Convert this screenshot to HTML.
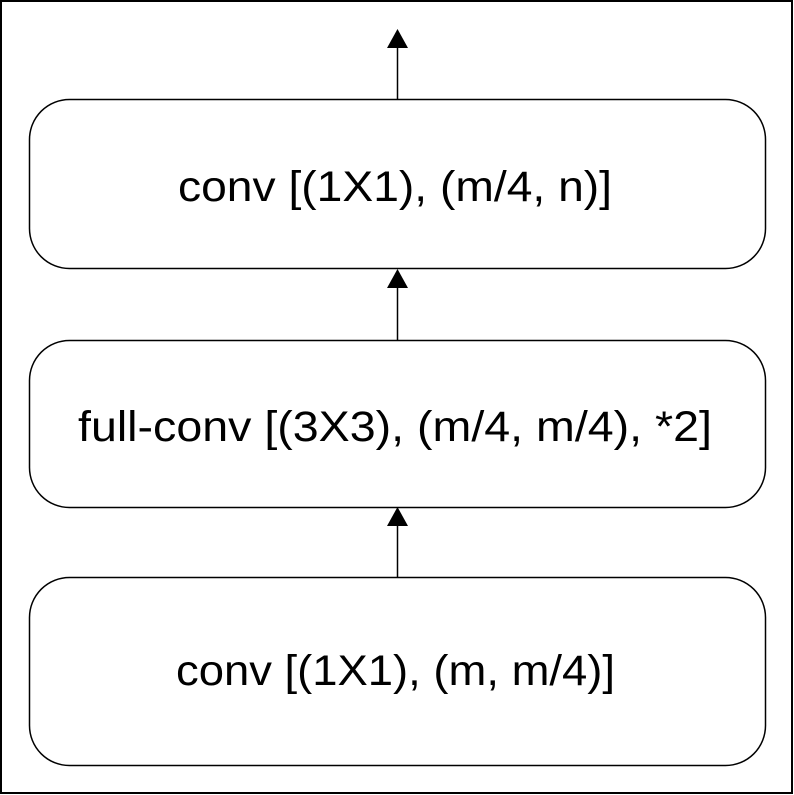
<!DOCTYPE html>
<html><head><meta charset="utf-8"><style>
html,body{margin:0;padding:0;background:#fff;}
svg{display:block;}
text{font-family:"Liberation Sans",sans-serif;font-size:43px;fill:#000;}
</style></head><body>
<svg width="794" height="795" viewBox="0 0 794 795" xmlns="http://www.w3.org/2000/svg">
<rect x="1" y="1" width="791" height="792" fill="#fff" stroke="#000" stroke-width="2"/>
<rect x="29.5" y="99.5" width="736" height="169" rx="40" ry="40" fill="#fff" stroke="#000" stroke-width="1.5"/>
<rect x="29.5" y="340.5" width="736" height="167" rx="40" ry="40" fill="#fff" stroke="#000" stroke-width="1.5"/>
<rect x="29.5" y="577.5" width="736" height="188" rx="40" ry="40" fill="#fff" stroke="#000" stroke-width="1.5"/>
<line x1="397.5" y1="99" x2="397.5" y2="46" stroke="#000" stroke-width="1.5"/>
<polygon points="397.5,29 387,48 408,48" fill="#000"/>
<line x1="397.5" y1="340" x2="397.5" y2="286" stroke="#000" stroke-width="1.5"/>
<polygon points="397.5,269 387,288 408,288" fill="#000"/>
<line x1="397.5" y1="577" x2="397.5" y2="524" stroke="#000" stroke-width="1.5"/>
<polygon points="397.5,507 387,526 408,526" fill="#000"/>
<text x="178" y="201" textLength="434" lengthAdjust="spacingAndGlyphs">conv [(1X1), (m/4, n)]</text>
<text x="78" y="441" textLength="634" lengthAdjust="spacingAndGlyphs">full-conv [(3X3), (m/4, m/4), *2]</text>
<text x="176" y="685" textLength="439" lengthAdjust="spacingAndGlyphs">conv [(1X1), (m, m/4)]</text>
</svg>
</body></html>
